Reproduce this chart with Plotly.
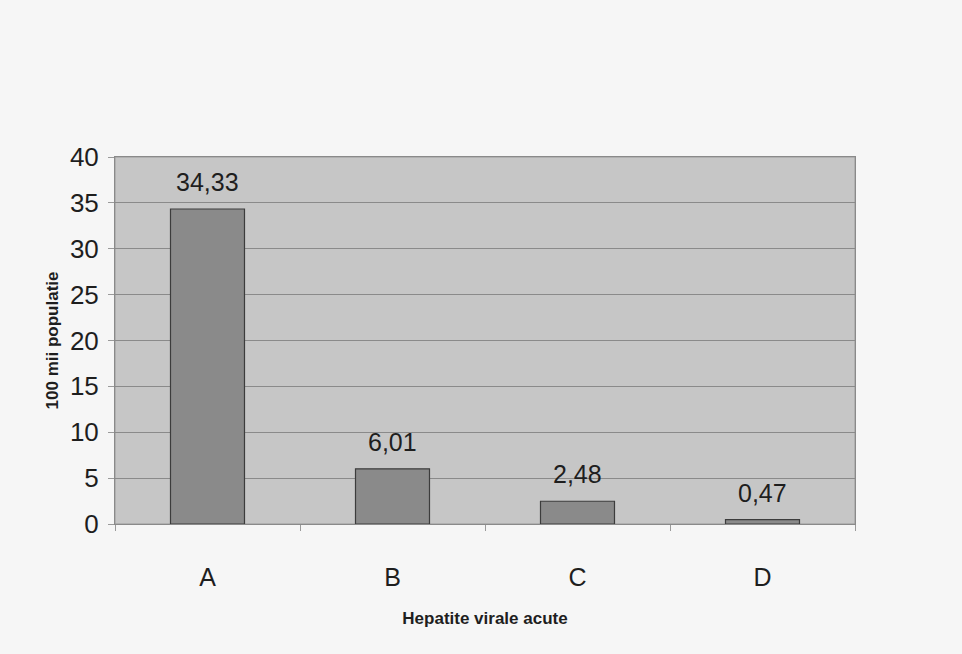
import plotly.graph_objects as go

categories = ["A", "B", "C", "D"]
values = [34.33, 6.01, 2.48, 0.47]
y_ticks = [0, 5, 10, 15, 20, 25, 30, 35, 40]

FONT = "Liberation Sans, Arial, sans-serif"

fig = go.Figure(
    go.Bar(
        x=categories,
        y=values,
        width=0.4,
        marker=dict(color="#8a8a8a", line=dict(color="#3c3c3c", width=1.2)),
    )
)

annotations = [
    dict(x=c, y=v, xref="x", yref="y", text=f"{v:.2f}".replace(".", ","),
         showarrow=False, yanchor="bottom", yshift=11,
         font=dict(family=FONT, size=25, color="#1e1e1e"))
    for c, v in zip(categories, values)
]

fig.update_layout(
    width=962,
    height=654,
    margin=dict(l=115, r=107, t=157, b=130),
    paper_bgcolor="#f6f6f6",
    plot_bgcolor="#c6c6c6",
    separators=",.",
    showlegend=False,
    font=dict(family=FONT, color="#1e1e1e"),
    annotations=annotations,
    shapes=[
        dict(type="rect", xref="paper", yref="paper", x0=0, x1=1, y0=0, y1=1,
             line=dict(color="#9a9a9a", width=1), fillcolor="rgba(0,0,0,0)", layer="below"),
    ],
)

fig.update_xaxes(
    showgrid=False,
    ticks="outside",
    tickson="boundaries",
    ticklen=6,
    tickcolor="#9a9a9a",
    tickfont=dict(family=FONT, size=25, color="#1e1e1e"),
    ticklabelstandoff=31,
    showline=True,
    linecolor="#8a8a8a",
    mirror=True,
    title=dict(text="<b>Hepatite virale acute</b>", font=dict(family=FONT, size=17, color="#1e1e1e"), standoff=22),
)

fig.update_yaxes(
    range=[0, 40],
    tickvals=y_ticks,
    showgrid=True,
    gridcolor="#8a8a8a",
    gridwidth=1,
    ticks="outside",
    ticklen=6,
    tickcolor="#9a9a9a",
    tickfont=dict(family=FONT, size=26, color="#1e1e1e"),
    ticklabelstandoff=4,
    showline=True,
    linecolor="#8a8a8a",
    mirror=True,
    zeroline=False,
    title=dict(text="<b>100 mii populatie</b>", font=dict(family=FONT, size=17, color="#1e1e1e"), standoff=6),
)

fig.write_html("out.html")
